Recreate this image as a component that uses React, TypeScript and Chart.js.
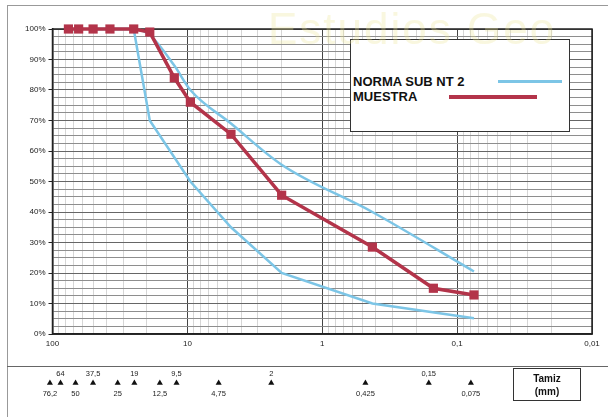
import React, { useEffect, useRef } from "react";
import { Chart, registerables } from "chart.js";
Chart.register(...registerables);

// ---- data ----
const sieves = [76.2, 64, 50, 37.5, 25, 19, 12.5, 9.5, 4.75, 2, 0.425, 0.15, 0.075];
const muestra = [100, 100, 100, 100, 100, 99, 84, 76, 65.5, 45.5, 28.5, 15, 12.8];
const upperSieves = [50, 37.5, 25, 19, 12.5, 9.5, 4.75, 2, 0.425, 0.075];
const upperLimit = [100, 100, 100, 98, 88, 80, 69, 55.5, 40, 20.5];
const lowerSieves = [50, 37.5, 25, 19, 9.5, 4.75, 2, 0.425, 0.075];
const lowerLimit = [100, 100, 100, 70, 50, 35, 20, 10, 5.2];
const xTickValues = [100, 10, 1, 0.1, 0.01];
const xTickLabels = ["100", "10", "1", "0,1", "0,01"];
const legendLabels = ["NORMA SUB NT 2", "MUESTRA"];
const boxTitle = ["Tamiz", "(mm)"];
const watermark = "Estudios Geo";

const FONT = '"Liberation Sans", Arial, Helvetica, sans-serif';
const RED = "#b3344a";
const BLUE = "#7cc5e6";

export default function App() {
  const mainRef = useRef<HTMLCanvasElement>(null);
  const sieveRef = useRef<HTMLCanvasElement>(null);

  useEffect(() => {
    const isDecade = (v: number) =>
      Math.abs(Math.log10(v) - Math.round(Math.log10(v))) < 1e-9;
    const gridTicks: number[] = [];
    for (let e = -2; e <= 1; e++)
      for (let m = 1; m <= 9; m++) gridTicks.push(m * Math.pow(10, e));
    gridTicks.push(100);

    const framePlugin = {
      id: "frame",
      beforeDatasetsDraw(chart: any) {
        const { ctx, chartArea: a } = chart;
        ctx.save();
        ctx.strokeStyle = "#222";
        ctx.lineWidth = 1.5;
        ctx.strokeRect(a.left, a.top, a.right - a.left, a.bottom - a.top);
        ctx.restore();
      },
    };

    const main = new Chart(mainRef.current!, {
      type: "line",
      data: {
        datasets: [
          {
            label: legendLabels[1],
            data: sieves.map((s, i) => ({ x: s, y: muestra[i] })),
            borderColor: RED,
            backgroundColor: RED,
            borderWidth: 3.5,
            pointStyle: "rect",
            pointRadius: 6.5,
            pointBorderWidth: 0,
            pointBackgroundColor: RED,
            tension: 0,
            clip: false,
          },
          {
            label: legendLabels[0],
            data: upperSieves.map((s, i) => ({ x: s, y: upperLimit[i] })),
            borderColor: BLUE,
            borderWidth: 2.5,
            pointRadius: 0,
            cubicInterpolationMode: "monotone",
            clip: false,
          },
          {
            label: legendLabels[0],
            data: lowerSieves.map((s, i) => ({ x: s, y: lowerLimit[i] })),
            borderColor: BLUE,
            borderWidth: 2.5,
            pointRadius: 0,
            tension: 0,
            clip: false,
          },
        ],
      },
      options: {
        animation: false,
        responsive: false,
        maintainAspectRatio: false,
        layout: { padding: { left: 0, top: 29, right: 16, bottom: 0 } },
        plugins: { legend: { display: false }, tooltip: { enabled: false } },
        scales: {
          x: {
            type: "logarithmic",
            reverse: true,
            min: 0.01,
            max: 100,
            afterBuildTicks: (s: any) => {
              s.ticks = gridTicks.map((v) => ({ value: v }));
            },
            afterFit: (s: any) => {
              s.height = 31;
            },
            ticks: {
              autoSkip: false,
              maxRotation: 0,
              padding: 5,
              color: "#222",
              font: { family: FONT, size: 8 },
              callback: (v: any) => {
                const i = xTickValues.findIndex(
                  (t) => Math.abs(Math.log10(t) - Math.log10(Number(v))) < 1e-9
                );
                return i >= 0 ? xTickLabels[i] : "";
              },
            },
            grid: {
              drawTicks: false,
              color: (c: any) =>
                c.tick && isDecade(c.tick.value) ? "#444" : "#d6d6d6",
              lineWidth: 1,
            },
            border: { display: true, color: "#222", width: 1.5 },
          },
          y: {
            min: 0,
            max: 100,
            afterFit: (s: any) => {
              s.width = 52.5;
            },
            ticks: {
              stepSize: 2.5,
              autoSkip: false,
              padding: 3,
              color: "#222",
              font: { family: FONT, size: 8 },
              callback: (v: any) => (Number(v) % 10 === 0 ? `${v}%` : ""),
            },
            grid: {
              drawTicks: true,
              tickLength: 4,
              tickColor: (c: any) =>
                c.tick && c.tick.value % 10 === 0 ? "#222" : "rgba(0,0,0,0)",
              color: (c: any) =>
                c.tick && c.tick.value % 10 === 0 ? "#666" : "#8e8e8e",
              lineWidth: 1,
            },
            border: { display: true, color: "#222", width: 1.5 },
          },
        },
      },
      plugins: [framePlugin],
    } as any);

    const labelPlugin = {
      id: "sieveLabels",
      afterDatasetsDraw(chart: any) {
        const { ctx } = chart;
        const meta = chart.getDatasetMeta(0);
        ctx.save();
        ctx.fillStyle = "#222";
        ctx.font = `7.5px ${FONT}`;
        ctx.textAlign = "center";
        ctx.textBaseline = "middle";
        meta.data.forEach((pt: any, i: number) => {
          const txt = String(sieves[i]).replace(".", ",");
          const y = i % 2 === 1 ? pt.y - 9 : pt.y + 11;
          ctx.fillText(txt, pt.x, y);
        });
        ctx.restore();
      },
    };

    const bottom = new Chart(sieveRef.current!, {
      type: "scatter",
      data: {
        datasets: [
          {
            data: sieves.map((s) => ({ x: s, y: 0 })),
            pointStyle: "triangle",
            pointRadius: 3.5,
            backgroundColor: "#111",
            borderColor: "#111",
            borderWidth: 0,
            clip: false,
          },
        ],
      },
      options: {
        animation: false,
        responsive: false,
        maintainAspectRatio: false,
        layout: { padding: { left: 33.4, right: 14.6, top: 6, bottom: 24 } },
        plugins: { legend: { display: false }, tooltip: { enabled: false } },
        scales: {
          x: { type: "logarithmic", reverse: true, min: 0.01, max: 100, display: false },
          y: { min: -1, max: 1, display: false },
        },
      },
      plugins: [labelPlugin],
    } as any);

    return () => {
      main.destroy();
      bottom.destroy();
    };
  }, []);

  return (
    <div
      style={{
        position: "absolute",
        left: 0,
        top: 0,
        width: 608,
        height: 417,
        overflow: "hidden",
        background: "#fff",
        fontFamily: FONT,
      }}
    >
      <canvas
        ref={mainRef}
        width={608}
        height={365}
        style={{ position: "absolute", left: 0, top: 0, width: 608, height: 365 }}
      />
      <canvas
        ref={sieveRef}
        width={608}
        height={50}
        style={{ position: "absolute", left: 0, top: 367, width: 608, height: 50 }}
      />
      {/* outer frame */}
      <div style={{ position: "absolute", left: 7, top: 5, width: 601, height: 0, borderTop: "1px solid #999" }} />
      <div style={{ position: "absolute", left: 7, top: 5, width: 0, height: 412, borderLeft: "1px solid #999" }} />
      <div style={{ position: "absolute", left: 7, top: 366, width: 601, height: 0, borderTop: "1.5px solid #666" }} />
      {/* legend */}
      <div
        style={{
          position: "absolute",
          left: 350,
          top: 39,
          width: 220,
          height: 93,
          border: "1.5px solid #333",
          background: "#fff",
          boxSizing: "border-box",
        }}
      >
        <div style={{ position: "absolute", left: 2, top: 34, font: `bold 13px ${FONT}`, lineHeight: "15px", color: "#111", whiteSpace: "nowrap" }}>
          {legendLabels[0]}
        </div>
        <div style={{ position: "absolute", left: 147, top: 40, width: 64, height: 2.5, background: BLUE }} />
        <div style={{ position: "absolute", left: 2, top: 49, font: `bold 13px ${FONT}`, lineHeight: "15px", color: "#111", whiteSpace: "nowrap" }}>
          {legendLabels[1]}
        </div>
        <div style={{ position: "absolute", left: 98, top: 55, width: 88, height: 3.5, background: RED }} />
      </div>
      {/* Tamiz box */}
      <div
        style={{
          position: "absolute",
          left: 513,
          top: 368,
          width: 68,
          height: 33,
          border: "1.5px solid #333",
          boxSizing: "border-box",
          textAlign: "center",
          font: `bold 10px ${FONT}`,
          lineHeight: "13px",
          paddingTop: 3,
          color: "#111",
        }}
      >
        <div>{boxTitle[0]}</div>
        <div>{boxTitle[1]}</div>
      </div>
      {/* watermark */}
      <div
        style={{
          position: "absolute",
          left: 268,
          top: 4,
          font: `44px ${FONT}`,
          letterSpacing: 2,
          color: "rgba(235,228,150,0.3)",
          whiteSpace: "nowrap",
          pointerEvents: "none",
        }}
      >
        {watermark}
      </div>
    </div>
  );
}
